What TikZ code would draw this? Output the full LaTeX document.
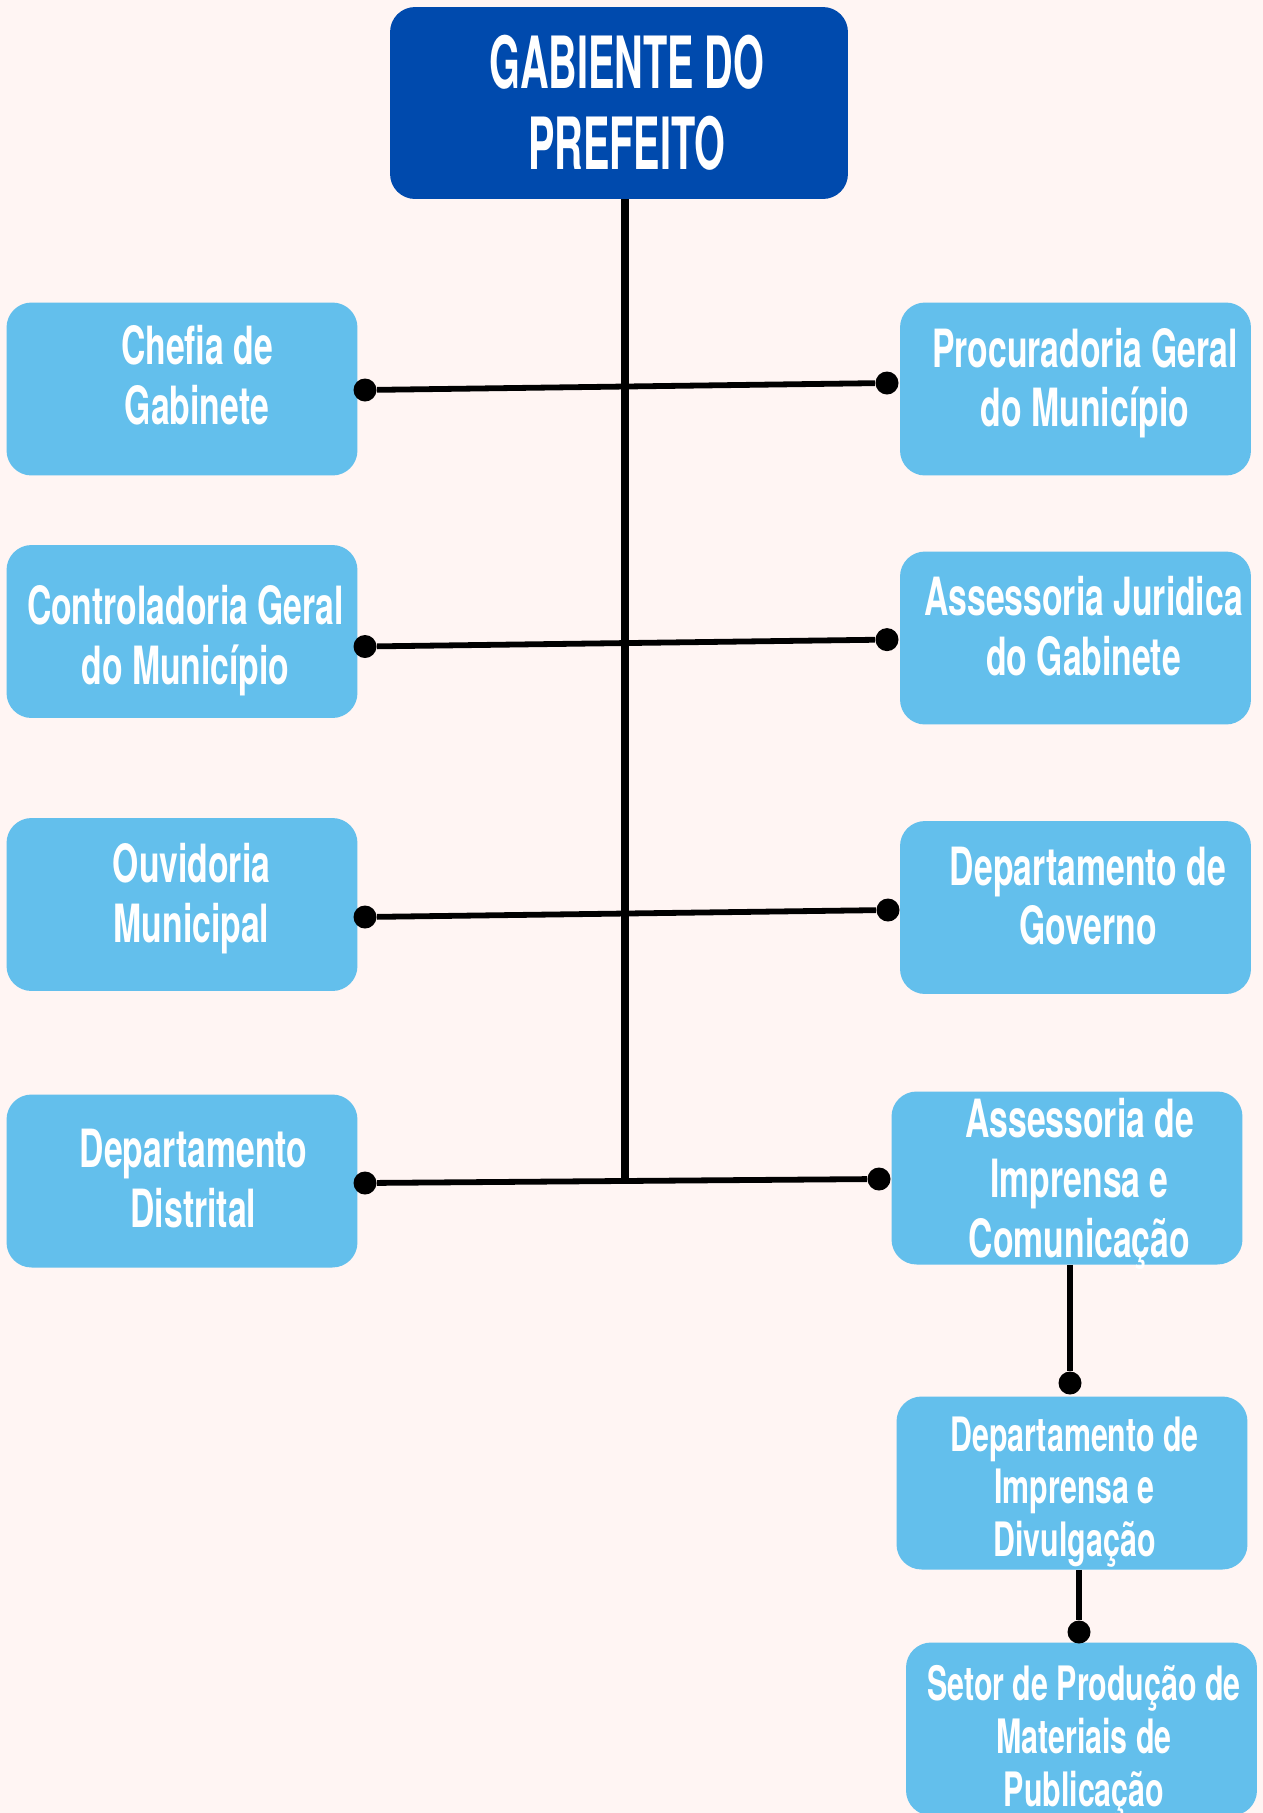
\documentclass[tikz,border=0pt]{standalone}
\usepackage{fontspec}
\setmainfont{TeX Gyre Heros}[FakeStretch=0.64]
\newfontfamily\fontetitulo{TeX Gyre Heros}[FakeStretch=0.55]
\usepackage{xcolor}
\definecolor{fundo}{HTML}{FFF5F3}
\definecolor{azulescuro}{HTML}{004AAD}
\definecolor{azulclaro}{HTML}{63BFEC}

\begin{document}
\begin{tikzpicture}[x=0.02cm,y=-0.02cm]

\tikzset{caixa/.style={rounded corners=0.5cm,fill=azulclaro,
		minimum width=7.02cm,minimum height=3.46cm,inner sep=0pt}, %caixa dos setores
	rotulo/.style={text=white,align=center,inner sep=0pt,
		font=\fontsize{30}{34}\selectfont\bfseries},
	rotulomenor/.style={rotulo,font=\fontsize{27}{30}\selectfont\bfseries},
	ponto/.style={circle,fill=black,inner sep=0pt,minimum size=0.46cm},
	ligacao/.style={line width=3.3pt}}

\fill[fundo] (0,0) rectangle (1263,1813);
\useasboundingbox (0,0) rectangle (1263,1813);

%----------gabinete------------
\node[caixa,fill=azulescuro,minimum width=9.16cm,minimum height=3.84cm] (prefeito) at (619,103) {};
\node[rotulo,xshift=0.16cm,font=\fontsize{41}{46}\selectfont\fontetitulo\bfseries] (prefeito-txt) at (prefeito) {GABIENTE DO\\PREFEITO};

%----------coluna esquerda------------
\node[caixa] (chefia) at (182,389) {};
\node[rotulo,xshift=0.30cm,yshift=0.28cm] (chefia-txt) at (chefia) {Chefia de\\Gabinete};
\node[caixa] (controladoria) at (182,631.5) {};
\node[rotulo,xshift=0.07cm,yshift=-0.18cm] (controladoria-txt) at (controladoria) {Controladoria Geral\\do Município};
\node[caixa] (ouvidoria) at (182,904.5) {};
\node[rotulo,xshift=0.19cm,yshift=0.12cm] (ouvidoria-txt) at (ouvidoria) {Ouvidoria\\Municipal};
\node[caixa] (distrital) at (182,1181) {};
\node[rotulo,xshift=0.23cm,yshift=0.05cm] (distrital-txt) at (distrital) {Departamento\\Distrital};

%----------coluna direita------------
\node[caixa] (procuradoria) at (1075.5,389) {};
\node[rotulo,xshift=0.19cm,yshift=0.12cm] (procuradoria-txt) at (procuradoria) {Procuradoria Geral\\do Município};
\node[caixa] (juridica) at (1075.5,638) {};
\node[rotulo,xshift=0.16cm,yshift=0.23cm] (juridica-txt) at (juridica) {Assessoria Juridica\\do Gabinete};
\node[caixa] (governo) at (1075.5,907.5) {};
\node[rotulo,xshift=0.25cm,yshift=0.23cm] (governo-txt) at (governo) {Departamento de\\Governo};
\node[caixa] (imprensa) at (1067,1178) {};
\node[rotulo,xshift=0.25cm,yshift=-0.12cm] (imprensa-txt) at (imprensa) {Assessoria de\\Imprensa e\\Comunicação};
\node[caixa] (divulgacao) at (1072,1483) {};
\node[rotulomenor,xshift=0.05cm,yshift=-0.18cm] (divulgacao-txt) at (divulgacao) {Departamento de\\Imprensa e\\Divulgação};
\node[caixa] (setor) at (1081.5,1729) {};
\node[rotulomenor,xshift=0.05cm,yshift=-0.25cm] (setor-txt) at (setor) {Setor de Produção de\\Materiais de\\Publicação};

%----------tronco------------
\coordinate (topo) at (625,199);
\coordinate (base) at (625,1181);
\draw[line width=4pt] (topo) -- (base);

%pontos das ligacoes
\node[ponto] (p1e) at (365,390) {};
\node[ponto] (p1d) at (887,383) {};
\node[ponto] (p2e) at (365,646.5) {};
\node[ponto] (p2d) at (887,639.6) {};
\node[ponto] (p3e) at (365,917) {};
\node[ponto] (p3d) at (888,910) {};
\node[ponto] (p4e) at (365,1183) {};
\node[ponto] (p4d) at (879,1179) {};
\node[ponto] (p5) at (1070,1383) {};
\node[ponto] (p6) at (1079,1632) {};

\draw[ligacao] (p1e) -- (p1d);
\draw[ligacao] (p2e) -- (p2d);
\draw[ligacao] (p3e) -- (p3d);
\draw[ligacao] (p4e) -- (p4d);
\draw[ligacao] (p5 |- imprensa.south) -- (p5);
\draw[ligacao] (p6 |- divulgacao.south) -- (p6);

\end{tikzpicture}
\end{document}
